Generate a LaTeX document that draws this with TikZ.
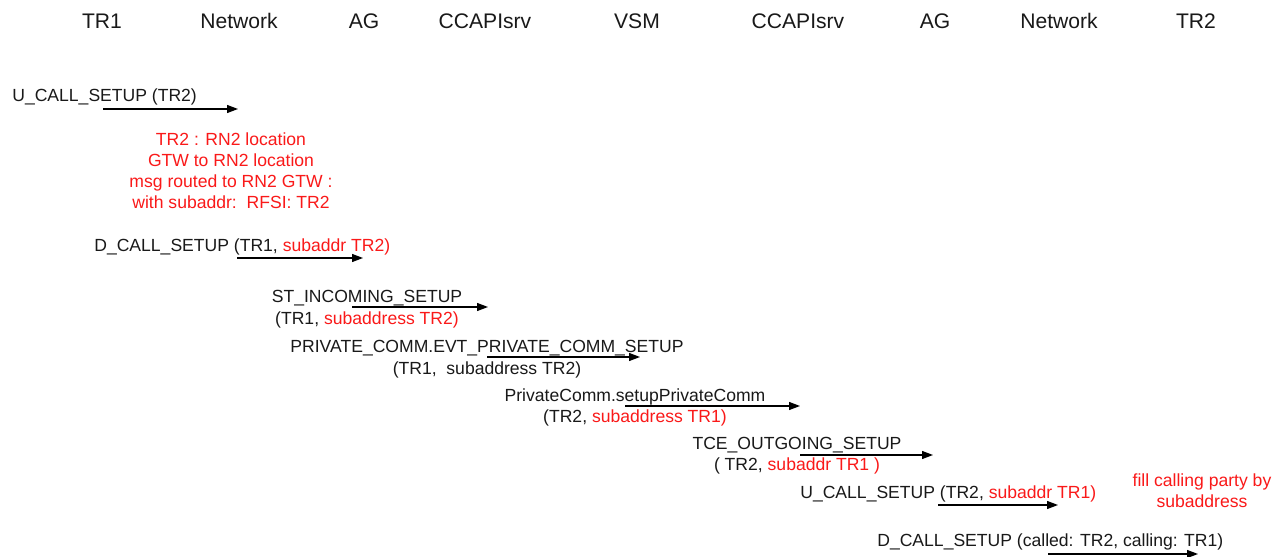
\documentclass[tikz,border=0pt]{standalone}
\usepackage{fontspec}
\setmainfont{Liberation Sans}
\usepackage{xcolor}
\usetikzlibrary{arrows.meta,positioning}
\definecolor{msgred}{RGB}{250,25,25}
\definecolor{msgtext}{RGB}{25,25,25}
\newcommand{\rd}[1]{\textcolor{msgred}{#1}}

\begin{document}
\begin{tikzpicture}[x=0.02cm, y=-0.02cm,
    every node/.style={inner sep=0pt, text=msgtext},
    actor/.style={font=\fontsize{12}{14}\selectfont},
    msglabel/.style={font=\fontsize{10}{12.3}\selectfont, align=center},
    note/.style={font=\fontsize{10}{12}\selectfont, align=center, text=msgred},
    msg/.style={-{Triangle[length=2.2mm,width=1.6mm]}, line width=0.7pt, draw=black}]
    % Frame
    \useasboundingbox[fill=white] (0,0) rectangle (1282,557);

    % Actors
    \foreach \px/\id/\lab in {102/tra/TR1, 239/neta/Network, 364/aga/AG, 485/srva/CCAPIsrv,
        637/vsm/VSM, 798/srvb/CCAPIsrv, 935/agb/AG, 1059/netb/Network, 1196/trb/TR2} {
        \node[actor] (\id) at (\px,21) {\lab};
    }

    % Messages
    \node[msglabel, anchor=west] (ucall) at (12,97) {U\_CALL\_SETUP (TR2)};
    \node[note] (route) at (231,171) {TR2 : RN2 location\\GTW to RN2 location\\msg routed to RN2 GTW :\\with subaddr:~~RFSI: TR2};
    \node[msglabel, anchor=west] (dcall) at (94,247) {D\_CALL\_SETUP (TR1, \rd{subaddr TR2)}};
    \node[msglabel] (stin) at (367,309) {ST\_INCOMING\_SETUP\\(TR1, \rd{subaddress TR2)}};
    \node[msglabel] (evt) at (487,359) {PRIVATE\_COMM.EVT\_PRIVATE\_COMM\_SETUP\\(TR1,~~subaddress TR2)};
    \node[msglabel] (setup) at (635,407.5) {PrivateComm.setupPrivateComm\\(TR2, \rd{subaddress TR1)}};
    \node[msglabel] (tce) at (797,455.5) {TCE\_OUTGOING\_SETUP\\( TR2, \rd{subaddr TR1 )}};
    \node[msglabel, anchor=west] (ucallb) at (800,494) {U\_CALL\_SETUP (TR2, \rd{subaddr TR1)}};
    \node[note] (fill) at (1202,491) {fill calling party by\\subaddress};
    \node[msglabel, anchor=west] (dcallb) at (877,542) {D\_CALL\_SETUP (called: TR2, calling: TR1)};

    % Arrow ends
    \coordinate (a1) at (103,109);  \coordinate (b1) at (238,109);
    \coordinate (a2) at (237,258);  \coordinate (b2) at (363,258);
    \coordinate (a3) at (352,307);  \coordinate (b3) at (488,307);
    \coordinate (a4) at (487,357);  \coordinate (b4) at (640,357);
    \coordinate (a5) at (625,406);  \coordinate (b5) at (800,406);
    \coordinate (a6) at (800,455);  \coordinate (b6) at (933,455);
    \coordinate (a7) at (938,505);  \coordinate (b7) at (1058,505);
    \coordinate (a8) at (1048,554); \coordinate (b8) at (1198,554);

    % Arrows
    \foreach \i in {1,...,8} {
        \draw[msg] (a\i) -- (b\i);
    }
\end{tikzpicture}
\end{document}
